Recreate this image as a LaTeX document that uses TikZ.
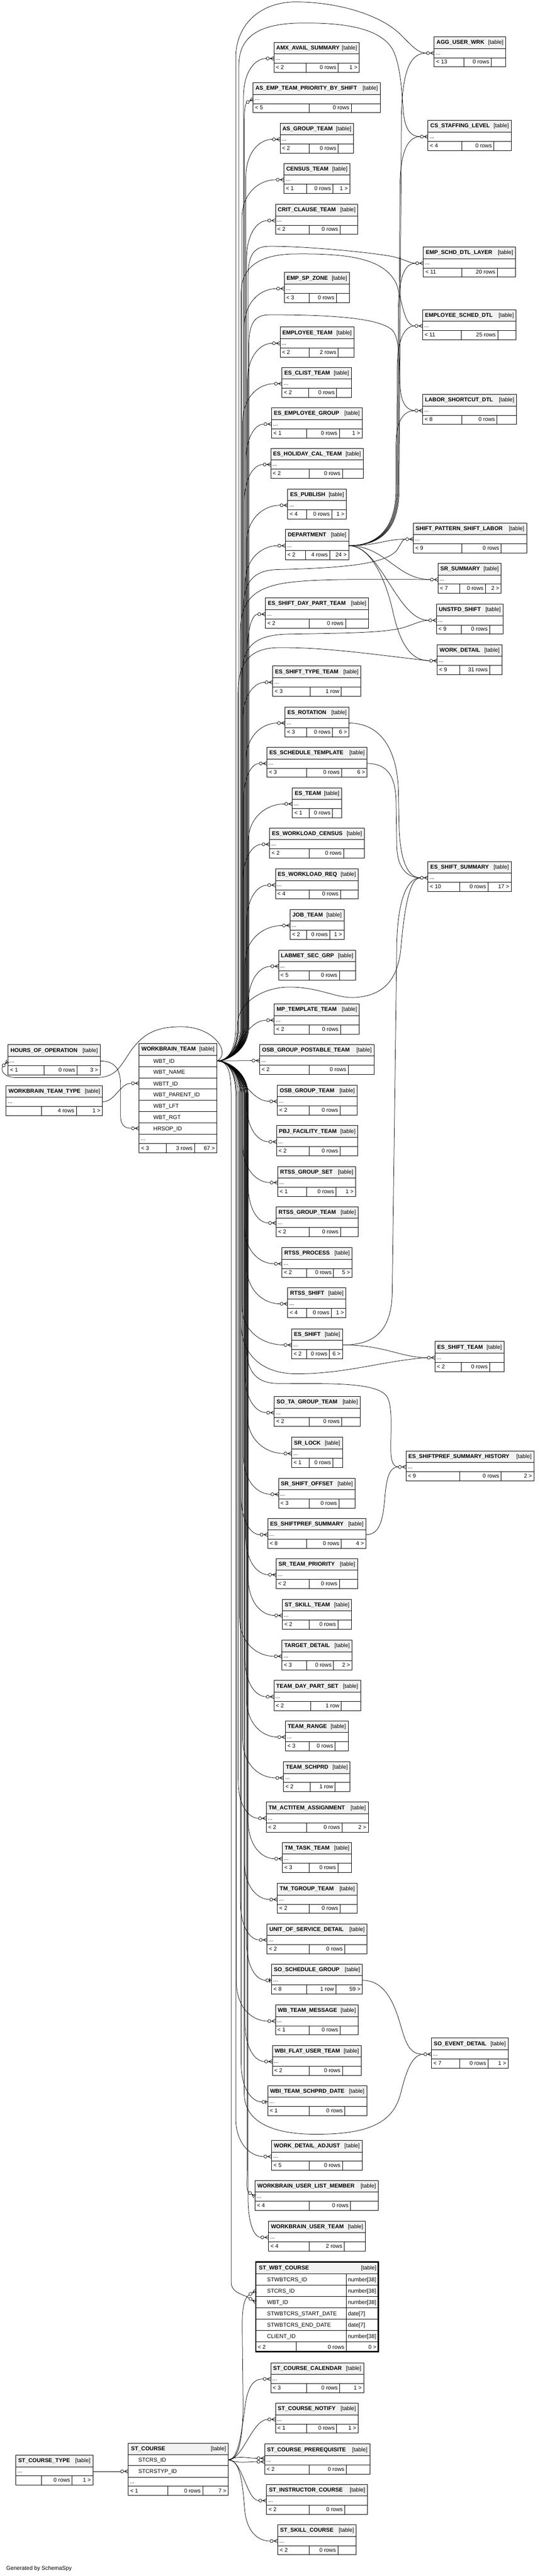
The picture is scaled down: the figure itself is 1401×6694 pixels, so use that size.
\documentclass[tikz,border=0pt]{standalone}
\usepackage{fontspec}
\setmainfont{Liberation Sans}
\usetikzlibrary{calc}
\definecolor{hdrgray}{RGB}{242,242,242}
\newcommand\fsz{\fontsize{14.5}{17}\selectfont}
\def\splitd#1/#2\relax{\def\dA{#1}\def\dB{#2}}
\tikzset{
 hdr/.style={fill=hdrgray},
 rowline/.style={line width=1pt},
 boxline/.style={line width=1.3pt},
 conn/.style={line width=1pt},
 tblnm/.style={anchor=base west,inner sep=0pt,font=\fsz\bfseries},
 tbltag/.style={anchor=base east,inner sep=0pt,font=\fsz},
 tbltx/.style={anchor=base west,inner sep=0pt,font=\fsz},
 tbltxe/.style={anchor=base east,inner sep=0pt,font=\fsz},
}
% id, x1, x2, ytop, name, parents, rows, children, d1/d2
\newcommand\TB[9]{%
  \splitd#9\relax
  \fill[hdr] (#2,#4) rectangle (#3,#4+30);
  \draw[rowline] (#2,#4+30) -- (#3,#4+30) (#2,#4+54) -- (#3,#4+54) (\dA,#4+54) -- (\dA,#4+78) (\dB,#4+54) -- (\dB,#4+78);
  \draw[boxline] (#2,#4) rectangle (#3,#4+78);
  \node[tblnm] (#1-n) at (#2+6,#4+19) {#5};
  \node[tbltag] (#1-t) at (#3-6,#4+19) {[table]};
  \node[tbltx] (#1-d) at (#2+4,#4+46) {...};
  \node[tbltx] (#1-p) at (#2+5,#4+70) {#6};
  \node[tbltxe] (#1-c) at (\dB-5,#4+70) {#7};
  \node[tbltxe] (#1-k) at (#3-5,#4+70) {#8};
  \coordinate (#1-l) at (#2,#4+42);
  \coordinate (#1-r) at (#3,#4+42);
  \coordinate (#1-m) at (#2-20,#4+42);
}
\newcommand\CF[1]{%
  \draw[conn] ([xshift=-12pt]#1-l) -- (#1-l) ([xshift=-10pt]#1-l) -- ([yshift=5pt]#1-l) ([xshift=-10pt]#1-l) -- ([yshift=-5pt]#1-l);
  \draw[conn,fill=white] ([xshift=-16pt]#1-l) circle[radius=4pt];}
\newcommand\CFR[2]{%
  \begin{scope}[shift={(#1)},rotate=#2]
  \draw[conn] (-12,0) -- (0,0) (-10,0) -- (0,5) (-10,0) -- (0,-5);
  \draw[conn,fill=white] (-16,0) circle[radius=4pt];
  \end{scope}}
\newcommand\ZO[1]{%
  \draw[conn] ([xshift=-7pt]#1-l) -- (#1-l);
  \draw[line width=2.2pt] ([xshift=-5pt,yshift=5pt]#1-l) -- ([xshift=-5pt,yshift=-5pt]#1-l);
  \draw[conn,fill=white] ([xshift=-11pt]#1-l) circle[radius=4pt];}
\newcommand\MKT[3]{\coordinate (#3) at ($(#1)+(#2:20pt)$);}
\newcommand\WUP[2]{\draw[conn] let \p1=(wbt-o),\p2=(#1-m) in (\p1) .. controls ({\x1+30pt},\y1) and (#2pt,{\y1+30pt}) .. (#2pt,{\y1+90pt}) -- (#2pt,{\y2-100pt}) .. controls (#2pt,{\y2-35pt}) and ({0.5*\x2+0.5*#2pt},\y2) .. (\p2);}
\newcommand\WDN[2]{\draw[conn] let \p1=(wbt-o),\p2=(#1-m) in (\p1) .. controls ({\x1+30pt},\y1) and (#2pt,{\y1-30pt}) .. (#2pt,{\y1-90pt}) -- (#2pt,{\y2+100pt}) .. controls (#2pt,{\y2+35pt}) and ({0.5*\x2+0.5*#2pt},\y2) .. (\p2);}
\newcommand\WNEAR[1]{\draw[conn] let \p1=(wbt-o),\p2=(#1-m) in (\p1) .. controls ({\x1+50pt},\y1) and ({\x2-60pt},\y2) .. (\p2);}
\newcommand\WBUP[1]{(wbt-o) .. controls +(30,0) and +(0,60) .. (#1,2667)}
\newcommand\WBDN[1]{(wbt-o) .. controls +(30,0) and +(0,-60) .. (#1,2847)}
\begin{document}
\begin{tikzpicture}[x=1pt,y=-1pt]
\useasboundingbox (0,0) rectangle (1401,6694);
% ---------- middle column ----------
\TB{amx}{711}{933}{110}{AMX\_AVAIL\_SUMMARY}{< 2}{0 rows}{1 >}{795/878}
\TB{asemp}{657}{987}{215}{AS\_EMP\_TEAM\_PRIORITY\_BY\_SHIFT}{< 5}{0 rows}{}{802/912}
\TB{asgrp}{727}{918}{320}{AS\_GROUP\_TEAM}{< 2}{0 rows}{}{802/878}
\TB{census}{737}{908}{425}{CENSUS\_TEAM}{< 1}{0 rows}{1 >}{796/864}
\TB{crit}{715}{929}{531}{CRIT\_CLAUSE\_TEAM}{< 2}{0 rows}{}{802/883}
\TB{empsp}{738}{907}{708}{EMP\_SP\_ZONE}{< 3}{0 rows}{}{803/873}
\TB{empteam}{727}{919}{850}{EMPLOYEE\_TEAM}{< 2}{2 rows}{}{803/878}
\TB{esclist}{732}{912}{955}{ES\_CLIST\_TEAM}{< 2}{0 rows}{}{801/874}
\TB{esempgrp}{705}{940}{1060}{ES\_EMPLOYEE\_GROUP}{< 1}{0 rows}{1 >}{796/881}
\TB{eshol}{703}{943}{1165}{ES\_HOLIDAY\_CAL\_TEAM}{< 2}{0 rows}{}{802/889}
\TB{espub}{747}{899}{1271}{ES\_PUBLISH}{< 4}{0 rows}{1 >}{796/861}
\TB{dept}{741}{905}{1376}{DEPARTMENT}{< 2}{4 rows}{24 >}{793/856}
\TB{esdaypart}{689}{957}{1554}{ES\_SHIFT\_DAY\_PART\_TEAM}{< 2}{0 rows}{}{803/897}
\TB{esshtype}{708}{937}{1731}{ES\_SHIFT\_TYPE\_TEAM}{< 3}{1 row}{}{805/886}
\TB{esrot}{740}{906}{1837}{ES\_ROTATION}{< 3}{0 rows}{6 >}{796/863}
\TB{essched}{693}{953}{1942}{ES\_SCHEDULE\_TEMPLATE}{< 3}{0 rows}{6 >}{796/887}
\TB{esteam}{759}{887}{2047}{ES\_TEAM}{< 1}{0 rows}{}{803/863}
\TB{eswlc}{700}{946}{2152}{ES\_WORKLOAD\_CENSUS}{< 2}{0 rows}{}{803/892}
\TB{eswlr}{715}{930}{2258}{ES\_WORKLOAD\_REQ}{< 4}{0 rows}{}{802/884}
\TB{jobteam}{753}{893}{2363}{JOB\_TEAM}{< 2}{0 rows}{1 >}{796/856}
\TB{labmet}{723}{923}{2469}{LABMET\_SEC\_GRP}{< 5}{0 rows}{}{803/881}
\TB{mptemp}{712}{933}{2609}{MP\_TEMPLATE\_TEAM}{< 2}{0 rows}{}{802/884}
\TB{osbpost}{674}{971}{2714}{OSB\_GROUP\_POSTABLE\_TEAM}{< 2}{0 rows}{}{802/904}
\TB{osbgrp}{720}{927}{2820}{OSB\_GROUP\_TEAM}{< 2}{0 rows}{}{803/883}
\TB{pbj}{718}{929}{2925}{PBJ\_FACILITY\_TEAM}{< 2}{0 rows}{}{803/883}
\TB{rtssset}{721}{923}{3031}{RTSS\_GROUP\_SET}{< 1}{0 rows}{1 >}{796/872}
\TB{rtssteam}{717}{930}{3136}{RTSS\_GROUP\_TEAM}{< 2}{0 rows}{}{803/884}
\TB{rtssproc}{732}{914}{3242}{RTSS\_PROCESS}{< 2}{0 rows}{5 >}{796/866}
\TB{rtssshift}{747}{898}{3346}{RTSS\_SHIFT}{< 4}{0 rows}{1 >}{796/860}
\TB{esshift}{757}{889}{3453}{ES\_SHIFT}{< 2}{0 rows}{6 >}{796/855}
\TB{sota}{712}{935}{3629}{SO\_TA\_GROUP\_TEAM}{< 2}{0 rows}{}{803/887}
\TB{srlock}{757}{889}{3735}{SR\_LOCK}{< 1}{0 rows}{}{803/864}
\TB{sroff}{723}{922}{3841}{SR\_SHIFT\_OFFSET}{< 3}{0 rows}{}{802/880}
\TB{esspref}{695}{950}{3946}{ES\_SHIFTPREF\_SUMMARY}{< 8}{0 rows}{4 >}{796/886}
\TB{srtp}{717}{928}{4050}{SR\_TEAM\_PRIORITY}{< 2}{0 rows}{}{802/881}
\TB{stskill}{733}{913}{4156}{ST\_SKILL\_TEAM}{< 2}{0 rows}{}{803/877}
\TB{target}{732}{914}{4262}{TARGET\_DETAIL}{< 3}{0 rows}{2 >}{796/866}
\TB{teamdps}{711}{936}{4367}{TEAM\_DAY\_PART\_SET}{< 2}{1 row}{}{807/886}
\TB{teamrange}{741}{904}{4472}{TEAM\_RANGE}{< 3}{0 rows}{}{802/870}
\TB{teamschprd}{736}{909}{4578}{TEAM\_SCHPRD}{< 2}{1 row}{}{805/870}
\TB{tmact}{691}{956}{4683}{TM\_ACTITEM\_ASSIGNMENT}{< 2}{0 rows}{2 >}{796/888}
\TB{tmtask}{733}{913}{4788}{TM\_TASK\_TEAM}{< 3}{0 rows}{}{803/877}
\TB{tmtgroup}{720}{927}{4894}{TM\_TGROUP\_TEAM}{< 2}{0 rows}{}{803/883}
\TB{unitsvc}{693}{953}{4999}{UNIT\_OF\_SERVICE\_DETAIL}{< 2}{0 rows}{}{802/895}
\TB{soschgrp}{705}{941}{5104}{SO\_SCHEDULE\_GROUP}{< 8}{1 row}{59 >}{796/872}
\TB{wbmsg}{715}{930}{5210}{WB\_TEAM\_MESSAGE}{< 1}{0 rows}{}{802/883}
\TB{wbiflat}{707}{938}{5315}{WBI\_FLAT\_USER\_TEAM}{< 2}{0 rows}{}{802/889}
\TB{wbischprd}{695}{952}{5420}{WBI\_TEAM\_SCHPRD\_DATE}{< 1}{0 rows}{}{803/895}
\TB{wdadj}{705}{940}{5562}{WORK\_DETAIL\_ADJUST}{< 5}{0 rows}{}{802/889}
\TB{wbulm}{662}{982}{5666}{WORKBRAIN\_USER\_LIST\_MEMBER}{< 4}{0 rows}{}{802/910}
\TB{wbuteam}{697}{949}{5772}{WORKBRAIN\_USER\_TEAM}{< 4}{2 rows}{}{803/894}
\TB{stcal}{703}{944}{6140}{ST\_COURSE\_CALENDAR}{< 3}{0 rows}{1 >}{796/882}
\TB{stnotify}{715}{930}{6245}{ST\_COURSE\_NOTIFY}{< 1}{0 rows}{1 >}{796/874}
\TB{stprereq}{687}{960}{6351}{ST\_COURSE\_PREREQUISITE}{< 2}{0 rows}{}{803/899}
\TB{stinstr}{692}{954}{6456}{ST\_INSTRUCTOR\_COURSE}{< 2}{0 rows}{}{802/895}
\TB{stskillc}{721}{925}{6561}{ST\_SKILL\_COURSE}{< 2}{0 rows}{}{803/877}
% ---------- right column ----------
\TB{agg}{1127}{1313}{96}{AGG\_USER\_WRK}{< 13}{0 rows}{}{1204/1275}
\TB{csstaff}{1111}{1327}{313}{CS\_STAFFING\_LEVEL}{< 4}{0 rows}{}{1199/1282}
\TB{empschd}{1099}{1338}{642}{EMP\_SCHD\_DTL\_LAYER}{< 11}{20 rows}{}{1199/1291}
\TB{empsched}{1097}{1340}{805}{EMPLOYEE\_SCHED\_DTL}{< 11}{25 rows}{}{1198/1292}
\TB{labor}{1097}{1341}{1025}{LABOR\_SHORTCUT\_DTL}{< 8}{0 rows}{}{1199/1290}
\TB{spsl}{1073}{1367}{1359}{SHIFT\_PATTERN\_SHIFT\_LABOR}{< 9}{0 rows}{}{1199/1301}
\TB{srsum}{1137}{1301}{1464}{SR\_SUMMARY}{< 7}{0 rows}{2 >}{1193/1260}
\TB{unstfd}{1133}{1306}{1570}{UNSTFD\_SHIFT}{< 9}{0 rows}{}{1197/1271}
\TB{workdet}{1135}{1303}{1675}{WORK\_DETAIL}{< 9}{31 rows}{}{1193/1271}
\TB{esshsum}{1111}{1327}{2239}{ES\_SHIFT\_SUMMARY}{< 10}{0 rows}{17 >}{1193/1267}
\TB{esshteam}{1129}{1309}{3486}{ES\_SHIFT\_TEAM}{< 2}{0 rows}{}{1198/1271}
\TB{essprefh}{1054}{1386}{3770}{ES\_SHIFTPREF\_SUMMARY\_HISTORY}{< 9}{0 rows}{2 >}{1193/1301}
\TB{soevent}{1120}{1319}{5296}{SO\_EVENT\_DETAIL}{< 7}{0 rows}{1 >}{1193/1267}
% ---------- left column ----------
\TB{hours}{21}{260}{2715}{HOURS\_OF\_OPERATION}{< 1}{0 rows}{3 >}{114/200}
\TB{wbtt}{16}{266}{2821}{WORKBRAIN\_TEAM\_TYPE}{}{4 rows}{1 >}{108/198}
\TB{stctype}{41}{241}{6380}{ST\_COURSE\_TYPE}{}{0 rows}{1 >}{108/187}
% ---------- WORKBRAIN_TEAM ----------
\fill[hdr] (361,2712) rectangle (563,2742);
\draw[rowline] (361,2742)--(563,2742) (361,2771.3)--(563,2771.3) (361,2800.6)--(563,2800.6) (361,2830)--(563,2830) (361,2859.3)--(563,2859.3) (361,2888.6)--(563,2888.6) (361,2918)--(563,2918) (361,2947)--(563,2947) (361,2971)--(563,2971) (431,2971)--(431,2995) (505,2971)--(505,2995);
\draw[boxline] (361,2712) rectangle (563,2995);
\node[tblnm] (wbt-n) at (367,2731) {WORKBRAIN\_TEAM};
\node[tbltag] (wbt-t) at (557,2731) {[table]};
\node[tbltx] (wbt-c1) at (398,2762) {WBT\_ID};
\node[tbltx] (wbt-c2) at (398,2791) {WBT\_NAME};
\node[tbltx] (wbt-c3) at (398,2821) {WBTT\_ID};
\node[tbltx] (wbt-c4) at (398,2850) {WBT\_PARENT\_ID};
\node[tbltx] (wbt-c5) at (398,2879) {WBT\_LFT};
\node[tbltx] (wbt-c6) at (398,2909) {WBT\_RGT};
\node[tbltx] (wbt-c7) at (398,2938) {HRSOP\_ID};
\node[tbltx] (wbt-d) at (365,2963) {...};
\node[tbltx] (wbt-p) at (366,2989) {< 3};
\node[tbltxe] (wbt-r) at (500,2989) {3 rows};
\node[tbltxe] (wbt-k) at (558,2989) {67 >};
\coordinate (wbt-o) at (563,2757);
\coordinate (hrsop-l) at (361,2932); \coordinate (hrsop-m) at (341,2932);
\coordinate (wbttid-l) at (361,2815); \coordinate (wbttid-m) at (341,2815);
% ---------- ST_WBT_COURSE ----------
\fill[hdr] (664,5878) rectangle (982,5909);
\draw[rowline] (664,5909)--(982,5909) (664,5938.3)--(982,5938.3) (664,5967.6)--(982,5967.6) (664,5997)--(982,5997) (664,6026.3)--(982,6026.3) (664,6055.6)--(982,6055.6) (664,6085)--(982,6085) (899,5909)--(899,6085) (769,6085)--(769,6111) (899,6085)--(899,6111);
\draw[line width=3pt] (664,5878) rectangle (982,6111);
\node[tblnm] (stwbt-n) at (672,5898) {ST\_WBT\_COURSE};
\node[tbltag] (stwbt-t) at (977,5898) {[table]};
\node[tbltx] (stwbt-c1) at (693,5929) {STWBTCRS\_ID};
\node[tbltx] (stwbt-c2) at (693,5958) {STCRS\_ID};
\node[tbltx] (stwbt-c3) at (693,5988) {WBT\_ID};
\node[tbltx] (stwbt-c4) at (693,6017) {STWBTCRS\_START\_DATE};
\node[tbltx] (stwbt-c5) at (693,6046) {STWBTCRS\_END\_DATE};
\node[tbltx] (stwbt-c6) at (693,6076) {CLIENT\_ID};
\node[tbltx] (stwbt-y1) at (903,5929) {number[38]};
\node[tbltx] (stwbt-y2) at (903,5958) {number[38]};
\node[tbltx] (stwbt-y3) at (903,5988) {number[38]};
\node[tbltx] (stwbt-y4) at (903,6017) {date[7]};
\node[tbltx] (stwbt-y5) at (903,6046) {date[7]};
\node[tbltx] (stwbt-y6) at (903,6076) {number[38]};
\node[tbltx] (stwbt-p) at (669,6104) {< 2};
\node[tbltxe] (stwbt-r) at (894,6104) {0 rows};
\node[tbltxe] (stwbt-k) at (977,6104) {0 >};
\coordinate (stwbts-l) at (664,5953);
\coordinate (stwbtw-l) at (664,5982);
% ---------- ST_COURSE ----------
\fill[hdr] (333,6349) rectangle (593,6378);
\draw[rowline] (333,6378)--(593,6378) (333,6407)--(593,6407) (333,6437)--(593,6437) (333,6460)--(593,6460) (435,6460)--(435,6484) (526,6460)--(526,6484);
\draw[boxline] (333,6349) rectangle (593,6484);
\node[tblnm] (stc-n) at (340,6368) {ST\_COURSE};
\node[tbltag] (stc-t) at (587,6368) {[table]};
\node[tbltx] (stc-c1) at (359,6398) {STCRS\_ID};
\node[tbltx] (stc-c2) at (359,6427) {STCRSTYP\_ID};
\node[tbltx] (stc-d) at (337,6453) {...};
\node[tbltx] (stc-p) at (338,6478) {< 1};
\node[tbltxe] (stc-r) at (521,6478) {0 rows};
\node[tbltxe] (stc-k) at (588,6478) {7 >};
\coordinate (stc-o) at (593,6392);
\coordinate (stcrstyp-l) at (333,6422); \coordinate (stcrstyp-m) at (313,6422);
\coordinate (stprA-l) at (687,6388); \coordinate (stprA-m) at (667,6388);
\coordinate (stprB-l) at (687,6397); \coordinate (stprB-m) at (667,6397);
\node[tbltx] (gen) at (16,6678) {Generated by SchemaSpy};
% ---------- marker tails ----------
\MKT{asemp-l}{210}{asemp-m}
\MKT{hours-l}{225}{hours-m}
\MKT{wbulm-l}{145}{wbulm-m}
\MKT{stwbts-l}{210}{stwbts-m}
\MKT{stwbtw-l}{150}{stwbtw-m}
\coordinate (soschgrp-m) at (690,5146);
\coordinate (wbischprd-m) at (680,5462);
% ---------- WORKBRAIN_TEAM -> middle (up) ----------
\WUP{amx}{632}
\draw[conn] \WBUP{634} -- (634,360) .. controls (634,305) and (633,282) .. (asemp-m);
\WUP{asgrp}{638}
\WUP{census}{628}
\WUP{crit}{640}
\WUP{empsp}{634}
\WUP{empteam}{642}
\WUP{esclist}{630}
\WUP{esempgrp}{638}
\WUP{eshol}{634}
\WUP{espub}{640}
\WUP{dept}{636}
\WUP{esdaypart}{642}
\WUP{esshtype}{630}
\WUP{esrot}{638}
\WUP{essched}{632}
\WUP{esteam}{644}
\WUP{eswlc}{630}
\WUP{eswlr}{640}
\WUP{jobteam}{636}
\WUP{labmet}{644}
\WNEAR{mptemp}
\draw[conn] (wbt-o) -- (osbpost-m);
% ---------- WORKBRAIN_TEAM -> middle (down) ----------
\WNEAR{osbgrp}
\WDN{pbj}{640}
\WDN{rtssset}{630}
\WDN{rtssteam}{644}
\WDN{rtssproc}{634}
\WDN{rtssshift}{640}
\WDN{esshift}{628}
\WDN{sota}{636}
\WDN{srlock}{642}
\WDN{sroff}{632}
\WDN{esspref}{626}
\WDN{srtp}{638}
\WDN{stskill}{644}
\WDN{target}{622}
\WDN{teamdps}{636}
\WDN{teamrange}{640}
\WDN{teamschprd}{630}
\WDN{tmact}{618}
\WDN{tmtask}{644}
\WDN{tmtgroup}{634}
\WDN{unitsvc}{624}
\WDN{soschgrp}{640}
\WDN{wbmsg}{614}
\WDN{wbiflat}{636}
\WDN{wbischprd}{626}
\WDN{wdadj}{612}
\draw[conn] \WBDN{642} -- (642,5620) .. controls (642,5670) and (638,5690) .. (wbulm-m);
\WDN{wbuteam}{644}
\draw[conn] \WBDN{600} -- (600,5930) .. controls (600,5960) and (635,5962) .. (stwbtw-m);
% ---------- WORKBRAIN_TEAM -> right column ----------
\draw[conn] \WBUP{612} -- (612,150) .. controls (612,60) and (680,5) .. (767,5) .. controls (880,5) and (990,40) .. (1040,90) .. controls (1070,120) and (1085,138) .. (agg-m);
\draw[conn] \WBUP{620} -- (620,170) .. controls (620,90) and (680,62) .. (777,60) .. controls (900,58) and (990,75) .. (1020,130) .. controls (1040,170) and (1043,240) .. (1047,290) .. controls (1051,335) and (1065,355) .. (csstaff-m);
\draw[conn] \WBUP{644} -- (644,720) .. controls (644,660) and (660,640) .. (700,640) .. controls (800,640) and (950,655) .. (1010,665) .. controls (1050,672) and (1060,684) .. (empschd-m);
\draw[conn] \WBUP{626} -- (626,760) .. controls (626,690) and (680,662) .. (760,660) .. controls (900,658) and (1000,670) .. (1030,740) .. controls (1045,790) and (1050,847) .. (empsched-m);
\draw[conn] \WBUP{646} -- (646,900) .. controls (646,840) and (660,818) .. (700,818) .. controls (850,818) and (990,825) .. (1020,860) .. controls (1040,885) and (1036,960) .. (1039,1010) .. controls (1042,1050) and (1058,1067) .. (labor-m);
\draw[conn] \WBUP{632} -- (632,1580) .. controls (632,1510) and (660,1482) .. (720,1480) .. controls (900,1476) and (1000,1465) .. (1030,1430) .. controls (1040,1415) and (1045,1401) .. (spsl-m);
\draw[conn] \WBUP{624} -- (624,1640) .. controls (624,1560) and (660,1528) .. (740,1515) .. controls (820,1503) and (950,1506) .. (srsum-m);
\draw[conn] \WBUP{628} -- (628,1760) .. controls (628,1680) and (660,1652) .. (740,1648) .. controls (900,1645) and (1000,1645) .. (1050,1630) .. controls (1080,1620) and (1095,1612) .. (unstfd-m);
\draw[conn] \WBUP{618} -- (618,1800) .. controls (618,1720) and (650,1685) .. (720,1683) .. controls (850,1681) and (1000,1705) .. (workdet-m);
\draw[conn] \WBUP{616} .. controls (616,2600) and (690,2565) .. (750,2565) .. controls (830,2565) and (870,2594) .. (920,2592) .. controls (1000,2588) and (1032,2540) .. (1040,2470) .. controls (1048,2380) and (1060,2281) .. (esshsum-m);
\draw[conn] \WBDN{626} -- (626,3440) .. controls (626,3520) and (680,3570) .. (770,3570) .. controls (900,3570) and (1000,3535) .. (esshteam-m);
\draw[conn] \WBDN{640} -- (640,3500) .. controls (640,3570) and (670,3594) .. (720,3595) .. controls (850,3596) and (980,3590) .. (1005,3630) .. controls (1022,3660) and (1012,3740) .. (1015,3780) .. controls (1017,3805) and (1025,3812) .. (essprefh-m);
\draw[conn] \WBDN{634} -- (634,5440) .. controls (634,5510) and (700,5546) .. (820,5546) .. controls (950,5546) and (1020,5520) .. (1040,5440) .. controls (1055,5380) and (1070,5338) .. (soevent-m);
% ---------- WORKBRAIN_TEAM <-> left ----------
\draw[conn] (wbt-o) .. controls (600,2740) and (560,2668) .. (470,2668) .. controls (400,2668) and (370,2690) .. (340,2730) .. controls (310,2775) and (300,2800) .. (250,2800) -- (40,2800) .. controls (15,2800) and (0,2785) .. (hours-m);
\draw[conn] (hours-r) .. controls (300,2757) and (313,2780) .. (313,2820) -- (313,2900) .. controls (313,2925) and (325,2932) .. (hrsop-m);
\draw[conn] (wbtt-r) .. controls (300,2863) and (310,2815) .. (wbttid-m);
% ---------- DEPARTMENT -> right ----------
\draw[conn] (dept-r) .. controls (980,1418) and (1000,1401) .. (spsl-m);
\draw[conn] (dept-r) .. controls (1000,1418) and (1030,1506) .. (srsum-m);
\draw[conn] (dept-r) .. controls (990,1418) and (1030,1612) .. (unstfd-m);
\draw[conn] (dept-r) .. controls (960,1418) and (1000,1500) .. (1020,1590) .. controls (1040,1680) and (1070,1717) .. (workdet-m);
\draw[conn] (dept-r) .. controls (995,1418) and (1036,1370) .. (1036,1270) -- (1042,300) .. controls (1045,170) and (1070,138) .. (agg-m);
\draw[conn] (dept-r) .. controls (992,1418) and (1034,1370) .. (1034,1270) -- (1038,480) .. controls (1040,390) and (1060,355) .. (csstaff-m);
\draw[conn] (dept-r) .. controls (989,1418) and (1032,1370) .. (1032,1270) -- (1034,800) .. controls (1036,720) and (1050,684) .. (empschd-m);
\draw[conn] (dept-r) .. controls (986,1418) and (1030,1370) .. (1030,1270) -- (1031,950) .. controls (1033,880) and (1050,847) .. (empsched-m);
\draw[conn] (dept-r) .. controls (983,1418) and (1028,1370) .. (1028,1270) -- (1028,1150) .. controls (1029,1090) and (1050,1067) .. (labor-m);
% ---------- other parents ----------
\draw[conn] (esrot-r) .. controls (990,1879) and (1030,1950) .. (1034,2050) -- (1036,2150) .. controls (1039,2240) and (1060,2281) .. (esshsum-m);
\draw[conn] (essched-r) .. controls (1000,1984) and (1026,2010) .. (1028,2080) -- (1030,2200) .. controls (1032,2260) and (1060,2281) .. (esshsum-m);
\draw[conn] (esshift-r) .. controls (960,3495) and (1016,3470) .. (1018,3360) -- (1030,2450) .. controls (1033,2330) and (1060,2281) .. (esshsum-m);
\draw[conn] (esshift-r) .. controls (1000,3495) and (1040,3528) .. (esshteam-m);
\draw[conn] (esspref-r) .. controls (990,3988) and (995,3940) .. (1000,3880) .. controls (1005,3830) and (1015,3812) .. (essprefh-m);
\draw[conn] (soschgrp-r) .. controls (1010,5146) and (1030,5230) .. (1045,5280) .. controls (1060,5330) and (1075,5338) .. (soevent-m);
% ---------- ST_COURSE -> children ----------
\draw[conn] (stc-o) .. controls (620,6392) and (630,6340) .. (631,6250) -- (629,6060) .. controls (628,6000) and (632,5975) .. (stwbts-m);
\draw[conn] (stc-o) .. controls (625,6392) and (630,6280) .. (640,6230) .. controls (650,6190) and (665,6182) .. (stcal-m);
\draw[conn] (stc-o) .. controls (630,6392) and (655,6287) .. (stnotify-m);
\draw[conn] (stc-o) .. controls (620,6380) and (640,6388) .. (stprA-m);
\draw[conn] (stc-o) .. controls (620,6402) and (640,6397) .. (stprB-m);
\draw[conn] (stc-o) .. controls (630,6392) and (640,6498) .. (stinstr-m);
\draw[conn] (stc-o) .. controls (625,6392) and (630,6460) .. (635,6520) .. controls (640,6580) and (670,6603) .. (stskillc-m);
\draw[conn] (stctype-r) -- (stcrstyp-m);
% ---------- markers ----------
\CF{amx} \CFR{asemp-l}{30} \CF{asgrp} \CF{census} \CF{crit} \CF{empsp} \CF{empteam}
\CF{esclist} \CF{esempgrp} \CF{eshol} \CF{espub} \CF{dept} \CF{esdaypart} \CF{esshtype}
\CF{esrot} \CF{essched} \CF{esteam} \CF{eswlc} \CF{eswlr} \CF{jobteam} \CF{labmet}
\CF{mptemp} \CF{osbpost} \CF{osbgrp} \CF{pbj} \CF{rtssset} \CF{rtssteam} \CF{rtssproc}
\CF{rtssshift} \CF{esshift} \CF{sota} \CF{srlock} \CF{sroff} \CF{esspref} \CF{srtp}
\CF{stskill} \CF{target} \CF{teamdps} \CF{teamrange} \CF{teamschprd} \CF{tmact}
\CF{tmtask} \CF{tmtgroup} \CF{unitsvc} \ZO{soschgrp} \CF{wbmsg} \CF{wbiflat}
\ZO{wbischprd} \CF{wdadj} \CFR{wbulm-l}{-35} \CF{wbuteam} \CFR{stwbts-l}{30}
\CFR{stwbtw-l}{-30} \CF{stcal} \CF{stnotify} \CFR{stprA-l}{0} \CFR{stprB-l}{0}
\CF{stinstr} \CF{stskillc}
\CF{agg} \CF{csstaff} \CF{empschd} \CF{empsched} \CF{labor} \CF{spsl} \CF{srsum}
\CF{unstfd} \CF{workdet} \CF{esshsum} \CF{esshteam} \CF{essprefh} \CF{soevent}
\CFR{hours-l}{45} \CF{hrsop} \CF{wbttid} \CF{stcrstyp}
\end{tikzpicture}
\end{document}
